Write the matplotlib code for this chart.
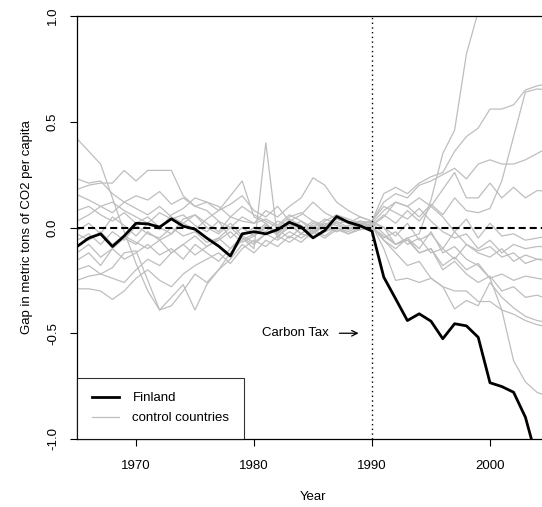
import numpy as np
import matplotlib
matplotlib.use('Agg')
import matplotlib.pyplot as plt

plt.rcParams['font.family'] = ['Liberation Sans', 'DejaVu Sans']

years = list(range(1965, 2006))

finland = [-0.09, -0.05, -0.03, -0.09, -0.04, 0.02, 0.017, 0.002, 0.041, 0.006,
           -0.008, -0.05, -0.088, -0.135, -0.03, -0.02, -0.03, -0.01, 0.025, 0.002,
           -0.049, -0.014, 0.052, 0.025, 0.008, -0.017, -0.235, -0.337, -0.44, -0.408,
           -0.443, -0.526, -0.455, -0.465, -0.519, -0.734, -0.752, -0.779, -0.897, -1.10,
           -1.20]

# control countries (gaps), 1965-2005
controls = [
    [0.42, 0.36, 0.30, 0.14, -0.02, -0.17, -0.30, -0.39, -0.37, -0.30, -0.22, -0.26, -0.20, -0.12,
     -0.06, -0.03, 0.02, -0.04, 0.00, 0.03, -0.02, 0.01, 0.05, 0.02, 0.00, 0.01,
     -0.06, -0.10, -0.05, -0.12, -0.10, -0.18, -0.14, -0.20, -0.17, -0.24, -0.22, -0.25, -0.23, -0.24, -0.25],
    [0.18, 0.20, 0.21, 0.21, 0.27, 0.22, 0.27, 0.27, 0.27, 0.15, 0.10, 0.08, 0.03, 0.00,
     0.05, 0.02, 0.04, 0.01, 0.06, 0.03, 0.00, 0.04, 0.02, 0.03, 0.01, 0.03,
     0.16, 0.19, 0.16, 0.21, 0.24, 0.26, 0.36, 0.43, 0.47, 0.56, 0.56, 0.58, 0.65, 0.67, 0.68],
    [0.23, 0.21, 0.22, 0.16, 0.12, 0.09, 0.06, 0.10, 0.05, 0.02, 0.06, 0.00, -0.03, 0.02,
     -0.04, 0.00, -0.02, 0.03, 0.01, -0.03, 0.02, 0.00, -0.02, 0.01, 0.03, 0.02,
     0.00, -0.08, -0.05, -0.03, 0.13, 0.35, 0.46, 0.82, 1.02, 1.25, 1.40, 1.55, 1.65, 1.75, 1.80],
    [0.155, 0.13, 0.10, 0.12, 0.08, 0.05, 0.02, 0.07, 0.04, 0.06, 0.01, -0.02, 0.03, -0.05,
     0.00, -0.04, 0.01, -0.02, 0.02, 0.00, -0.03, 0.02, 0.01, -0.01, 0.02, 0.01,
     0.05, 0.12, 0.10, 0.05, 0.11, 0.06, 0.14, 0.08, 0.07, 0.09, 0.22, 0.43, 0.64, 0.655, 0.65],
    [0.08, 0.10, 0.06, 0.03, 0.07, 0.02, 0.05, 0.00, -0.03, 0.04, 0.06, 0.02, -0.02, 0.05,
     0.10, 0.06, 0.03, 0.00, 0.05, 0.07, 0.03, 0.01, 0.04, 0.02, 0.03, 0.02,
     0.08, 0.12, 0.10, 0.14, 0.10, 0.18, 0.26, 0.14, 0.14, 0.21, 0.14, 0.19, 0.14, 0.175, 0.17],
    [0.03, 0.06, 0.10, 0.07, 0.12, 0.15, 0.13, 0.17, 0.11, 0.14, 0.10, 0.12, 0.08, 0.11,
     0.15, 0.08, 0.05, 0.10, 0.03, 0.06, 0.12, 0.07, 0.04, 0.02, 0.05, 0.03,
     0.12, 0.16, 0.14, 0.20, 0.22, 0.25, 0.28, 0.23, 0.30, 0.32, 0.30, 0.30, 0.32, 0.35, 0.38],
    [-0.015, 0.02, -0.03, 0.05, 0.01, -0.04, 0.02, -0.01, 0.06, 0.09, 0.14, 0.12, 0.10, 0.05,
     0.03, 0.02, 0.08, 0.05, 0.10, 0.14, 0.235, 0.20, 0.12, 0.08, 0.05, 0.03,
     0.10, 0.07, 0.04, 0.09, 0.03, -0.02, -0.05, -0.03, -0.10, -0.06, -0.12, -0.08, -0.10, -0.09, -0.09],
    [-0.06, -0.03, -0.08, -0.02, -0.06, 0.01, -0.03, -0.05, 0.00, -0.04, -0.02, -0.07, -0.05, 0.00,
     -0.05, -0.10, 0.40, -0.05, 0.02, -0.03, 0.01, -0.02, 0.03, 0.00, -0.01, 0.00,
     -0.05, -0.02, -0.08, -0.05, -0.12, -0.10, -0.15, -0.08, -0.12, -0.14, -0.10, -0.16, -0.13, -0.15, -0.15],
    [-0.12, -0.08, -0.14, -0.10, -0.05, -0.08, -0.02, -0.06, -0.03, 0.02, -0.01, 0.04, 0.08, 0.15,
     0.22, 0.05, 0.02, -0.03, 0.04, 0.01, -0.02, 0.03, 0.06, 0.04, 0.02, 0.03,
     0.00, -0.04, 0.02, -0.06, -0.03, -0.10, -0.02, -0.08, -0.11, -0.09, -0.14, -0.12, -0.17, -0.15, -0.16],
    [-0.155, -0.12, -0.18, -0.10, -0.15, -0.12, -0.08, -0.13, -0.10, -0.15, -0.08, -0.12, -0.16, -0.10,
     -0.05, -0.08, -0.03, -0.06, -0.02, -0.05, -0.01, -0.04, 0.00, -0.02, 0.01, 0.00,
     -0.04, -0.08, -0.06, -0.12, -0.10, -0.20, -0.16, -0.22, -0.26, -0.23, -0.30, -0.28, -0.33, -0.32, -0.34],
    [-0.20, -0.18, -0.22, -0.19, -0.12, -0.11, -0.25, -0.39, -0.33, -0.27, -0.39, -0.27, -0.20, -0.15,
     -0.08, -0.12, -0.06, -0.09, -0.04, -0.07, -0.02, -0.05, -0.01, -0.03, 0.00, 0.01,
     -0.10, -0.25, -0.24, -0.26, -0.24, -0.28, -0.30, -0.30, -0.35, -0.35, -0.39, -0.41, -0.44, -0.46, -0.47],
    [-0.29, -0.29, -0.30, -0.34, -0.30, -0.24, -0.20, -0.25, -0.28, -0.22, -0.18, -0.15, -0.12, -0.17,
     -0.10, -0.06, -0.09, -0.04, -0.07, -0.03, -0.05, -0.02, 0.00, -0.03, -0.01, 0.00,
     -0.06, -0.12, -0.18, -0.16, -0.24, -0.28, -0.385, -0.345, -0.37, -0.26, -0.33, -0.38, -0.42, -0.44, -0.45],
    [-0.25, -0.23, -0.22, -0.24, -0.26, -0.20, -0.15, -0.18, -0.12, -0.08, -0.13, -0.09, -0.05, -0.10,
     -0.04, -0.07, -0.03, -0.01, -0.05, 0.00, -0.03, 0.01, -0.02, 0.01, 0.00, 0.02,
     -0.03, -0.08, -0.05, -0.10, -0.02, -0.12, -0.09, -0.15, -0.18, -0.24, -0.39, -0.63, -0.73, -0.78, -0.80],
    [-0.03, -0.06, -0.02, -0.08, -0.04, -0.07, -0.10, -0.06, -0.12, -0.08, -0.04, -0.09, -0.06, -0.02,
     -0.07, -0.04, 0.00, -0.03, 0.02, -0.01, 0.03, 0.00, 0.02, -0.01, 0.02, 0.01,
     0.06, 0.02, 0.08, 0.03, 0.10, 0.05, -0.02, 0.04, -0.05, 0.02, -0.04, -0.03, -0.06, -0.05, -0.04],
]

x_ticks = [1970, 1980, 1990, 2000]
y_ticks = [-1.0, -0.5, 0.0, 0.5, 1.0]

fig = plt.figure(figsize=(5.42, 5.07), dpi=100)
ax = fig.add_axes([77/542, 68/507, 472/542, 423/507])

for i, c in enumerate(controls):
    ax.plot(years, c, color='#bebebe', lw=0.9, label='control countries' if i == 0 else None)
ax.plot(years, finland, color='black', lw=2.0, label='Finland')

ax.axhline(0, color='black', lw=1.5, dashes=(3.4, 1.9))
ax.axvline(1990, color='black', lw=1.0, linestyle=(0, (1, 2.4)))

ax.text(1983.5, -0.5, 'Carbon Tax', ha='center', va='center', fontsize=9.5)
ax.annotate('', xy=(1989.1, -0.5), xytext=(1987, -0.5),
            arrowprops=dict(arrowstyle='->', lw=0.9, color='black'))

ax.set_xlim(1965, 2005)
ax.set_ylim(-1, 1)
ax.set_xticks(x_ticks)
ax.set_yticks(y_ticks)
ax.set_yticklabels(['%.1f' % v for v in y_ticks], rotation=90, va='center')
ax.tick_params(direction='out', length=5, width=0.8, labelsize=9.5)
ax.tick_params(axis='x', pad=10)
ax.tick_params(axis='y', pad=8)

for s in ['left', 'bottom', 'top']:
    ax.spines[s].set_linewidth(0.9)
ax.spines['right'].set_visible(False)

fig.text(313/542, 1 - 497/507, 'Year', ha='center', va='center', fontsize=9.5)
fig.text(27/542, 1 - 227/507, 'Gap in metric tons of CO2 per capita', ha='center', va='center',
         rotation=90, fontsize=9.5)

h, l = ax.get_legend_handles_labels()
leg = ax.legend(h[::-1], l[::-1], loc='lower left', bbox_to_anchor=(0, 0), borderaxespad=0,
                fancybox=False, edgecolor='black', fontsize=9.5, handlelength=2.1,
                handletextpad=1.0, borderpad=1.1, labelspacing=0.6)
leg.get_frame().set_linewidth(0.8)

fig.savefig('out.png', dpi=100)
